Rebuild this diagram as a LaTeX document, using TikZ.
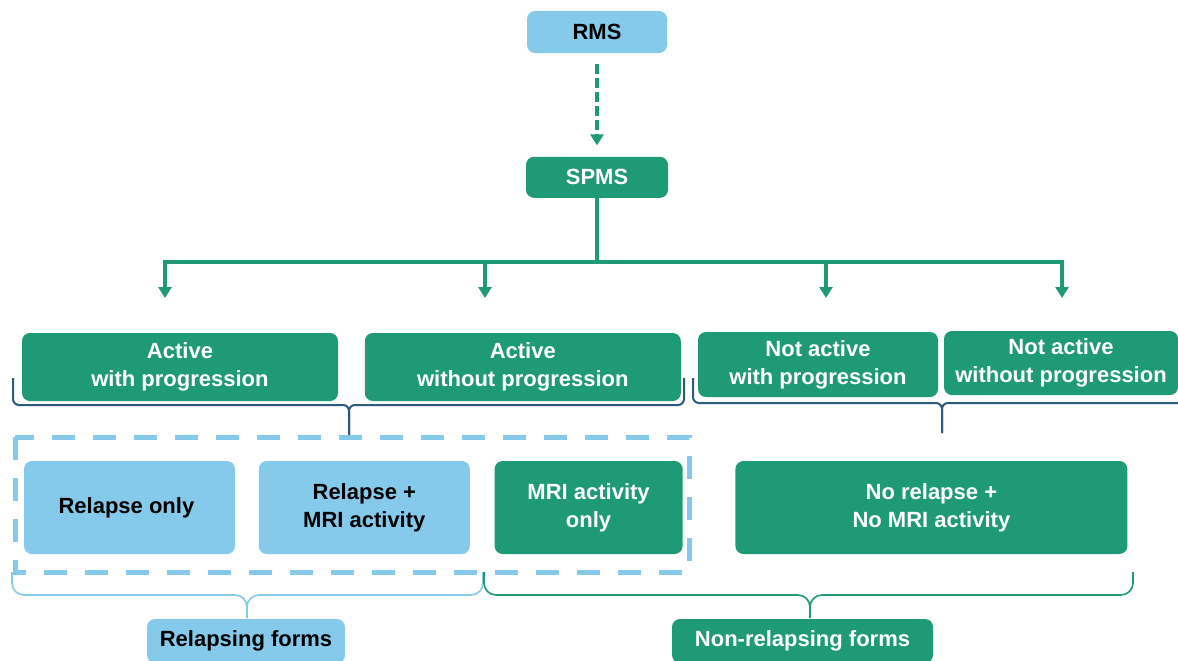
\documentclass[tikz,border=0pt]{standalone}
\usepackage{fontspec}
\setmainfont{Liberation Sans}
\usetikzlibrary{positioning, arrows.meta}

\definecolor{msblue}{HTML}{86CAEB}
\definecolor{msgreen}{HTML}{1F9A76}
\definecolor{msnavy}{HTML}{2A5A7C}

\begin{document}
\begin{tikzpicture}
    [x=0.5pt, y=-0.5pt,
     every node/.style={align=center, rounded corners=4pt, inner sep=0pt,
        font=\fontsize{11}{14}\selectfont\bfseries},
     lite/.style={fill=msblue, text=black},
     dark/.style={fill=msgreen, text=white},
     arr/.style={draw=msgreen, line width=2pt, -{Triangle[width=6.5pt, length=5.5pt]}},
     bus/.style={draw=msgreen, line width=2.2pt, line cap=rect},
     grp/.style={line width=1pt, rounded corners=3pt},
    ]
    \useasboundingbox (0,0) rectangle (1178,660);

    \node (rms) [lite, minimum width=70pt, minimum height=21pt] at (597,32) {RMS};
    \node (spms) [dark, minimum width=71pt, minimum height=20.5pt, below=51.5pt of rms] {SPMS};

    \node (act-prog) [dark, minimum width=158pt, minimum height=34pt] at (180,367) {
        Active\\
        with progression
    };
    \node (act-noprog) [dark, minimum width=158pt, minimum height=34pt, right=13pt of act-prog] {
        Active\\
        without progression
    };
    \node (nact-prog) [dark, minimum width=120pt, minimum height=32.5pt] at (818,364.5) {
        Not active\\
        with progression
    };
    \node (nact-noprog) [dark, minimum width=117pt, minimum height=32pt] at (1061,363) {
        Not active\\
        without progression
    };

    \node (relapse) [lite, minimum width=105.5pt, minimum height=46.5pt] at (129.5,507.5) {
        Relapse only
    };
    \node (relapse-mri) [lite, minimum width=105.5pt, minimum height=46.5pt, right=11.5pt of relapse] {
        Relapse +\\
        MRI activity
    };
    \node (mri) [dark, minimum width=94pt, minimum height=46.5pt, right=12pt of relapse-mri] {
        MRI activity\\
        only
    };
    \node (none) [dark, minimum width=196pt, minimum height=46.5pt, right=26pt of mri] {
        No relapse +\\
        No MRI activity
    };

    \node (relapsing) [lite, minimum width=99pt, minimum height=22pt] at (246,641) {Relapsing forms};
    \node (nonrelapsing) [dark, minimum width=130.5pt, minimum height=22pt] at (802.5,641) {Non-relapsing forms};

    % RMS -> SPMS
    \draw [arr, dash pattern=on 5pt off 2pt, shorten <=5.5pt, shorten >=5.5pt] (rms) -- (spms);

    % branches
    \coordinate (bus) at (597,262);
    \coordinate (t1) at (165,298);
    \coordinate (t2) at (485,298);
    \coordinate (t3) at (826,298);
    \coordinate (t4) at (1062,298);
    \draw [bus] (spms.south) -- (spms.south |- bus);
    \draw [bus] (t1 |- bus) -- (t4 |- bus);
    \foreach \t in {t1, t2, t3, t4}
        \draw [arr] (\t |- bus) -- (\t);

    % groups
    \draw [grp, draw=msnavy] (13,378) |- (349,405) -- (349,435);
    \draw [grp, draw=msnavy] (684,378) |- (349,405) -- (349,435);
    \draw [grp, draw=msnavy] (693,378) |- (942,403) -- (942,433);
    \draw [grp, draw=msnavy] (1190,378) |- (942,403) -- (942,433);

    \draw [msblue, line width=2.5pt, dash pattern=on 11.5pt off 9pt] (15,437) rectangle (689,572);

    \draw [grp, draw=msblue, line width=0.8pt, rounded corners=6pt] (12,572) |- (247,595) -- (247,618);
    \draw [grp, draw=msblue, line width=0.8pt, rounded corners=6pt] (483,572) |- (247,595) -- (247,618);
    \draw [grp, draw=msgreen, line width=0.8pt, rounded corners=6pt] (484,572) |- (810,595) -- (810,618);
    \draw [grp, draw=msgreen, line width=0.8pt, rounded corners=6pt] (1133,572) |- (810,595) -- (810,618);

\end{tikzpicture}
\end{document}
